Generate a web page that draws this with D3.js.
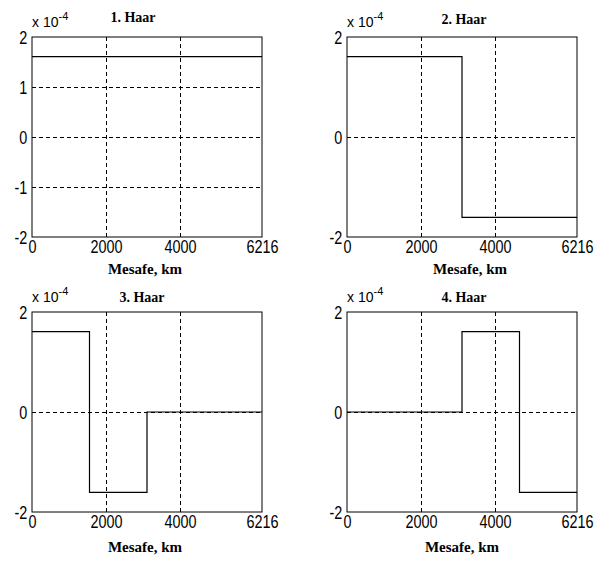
<!DOCTYPE html>
<html>
<head>
<meta charset="utf-8">
<script src="https://cdn.jsdelivr.net/npm/d3@7"></script>
<style>
  html, body { margin: 0; padding: 0; background: #fff; }
  svg { display: block; }
  .tick text { font-family: "Liberation Sans", Arial, sans-serif; font-size: 18px; fill: #000; }
  .title, .xlabel { font-family: "Liberation Serif", "Times New Roman", serif; font-weight: bold; fill: #000; }
</style>
</head>
<body>
<svg id="chart" width="611" height="561"></svg>
<script>
(function () {
    'use strict';

    // distance in km, Haar values in units of 1e-4
    const xMax = 6216;
    const xTicks = [0, 2000, 4000, 6216];
    const xGrid = [2000, 4000];
    const yTicksFull = [-2, -1, 0, 1, 2];
    const yTicksShort = [-2, 0, 2];
    const titles = ["1. Haar", "2. Haar", "3. Haar", "4. Haar"];

    const edges1 = [0, 6216];
    const levels1 = [1.609];
    const edges2 = [0, 3108, 6216];
    const levels2 = [1.609, -1.609];
    const edges3 = [0, 1554, 3108, 6216];
    const levels3 = [1.609, -1.609, 0];
    const edges4 = [0, 3108, 4662, 6216];
    const levels4 = [0, 1.609, -1.609];

    const series = [
        { edges: edges1, levels: levels1, yTicks: yTicksFull },
        { edges: edges2, levels: levels2, yTicks: yTicksShort },
        { edges: edges3, levels: levels3, yTicks: yTicksShort },
        { edges: edges4, levels: levels4, yTicks: yTicksShort }
    ];

    // panel layout (pixels)
    const plotW = 230, plotH = 200;
    const panels = [
        { left: 32,  top: 37,  titleDy: -15, titleDx: -14, labelDy: 37, labelDx: -2 },
        { left: 347, top: 37,  titleDy: -13, titleDx: 2,   labelDy: 37, labelDx: 8 },
        { left: 32,  top: 312, titleDy: -10, titleDx: -5,  labelDy: 40, labelDx: -2 },
        { left: 347, top: 312, titleDy: -10, titleDx: 2,   labelDy: 40, labelDx: 0 }
    ];

    const svg = d3.select('#chart');

    const x = d3.scaleLinear().domain([0, xMax]).range([0, plotW]);
    const y = d3.scaleLinear().domain([-2, 2]).range([plotH, 0]);

    const stepLine = d3.line()
            .x(d => x(d[0]))
            .y(d => y(d[1]))
            .curve(d3.curveStepAfter);

    series.forEach((s, i) => {
        const p = panels[i];
        const g = svg.append("g")
                .attr("transform", `translate(${p.left},${p.top})`);

        // dashed grid
        const gridX = g.append("g")
                .attr("transform", `translate(0,${plotH})`)
                .call(d3.axisBottom(x).tickValues(xGrid).tickSize(-plotH).tickFormat(""));
        const gridY = g.append("g")
                .call(d3.axisLeft(y).tickValues(s.yTicks.filter(v => v > -2 && v < 2))
                        .tickSize(-plotW).tickFormat(""));
        [gridX, gridY].forEach(gr => {
            gr.select(".domain").remove();
            gr.selectAll(".tick line")
                .attr("stroke", "#000")
                .attr("stroke-width", 1)
                .attr("stroke-dasharray", "4,3");
        });

        // frame
        g.append("rect")
                .attr("x", 0).attr("y", 0)
                .attr("width", plotW).attr("height", plotH)
                .attr("fill", "none")
                .attr("stroke", "#000")
                .attr("stroke-width", 1);

        // step signal
        const pts = s.levels.map((v, k) => [s.edges[k], v]);
        pts.push([s.edges[s.edges.length - 1], s.levels[s.levels.length - 1]]);
        g.append("path")
                .datum(pts)
                .attr("fill", "none")
                .attr("stroke", "#000")
                .attr("stroke-width", 1.2)
                .attr("d", stepLine);

        // tick labels (plain hyphen minus like the original)
        const ax = g.append("g")
                .attr("transform", `translate(0,${plotH})`)
                .call(d3.axisBottom(x).tickValues(xTicks).tickSize(0).tickPadding(3.5).tickFormat(d => String(d)));
        const ay = g.append("g")
                .call(d3.axisLeft(y).tickValues(s.yTicks).tickSize(0).tickPadding(6).tickFormat(d => String(d)));
        [ax, ay].forEach(a => {
            a.select(".domain").remove();
            a.attr("font-family", null).attr("font-size", null);
        });
        ax.selectAll(".tick text").attr("transform", "scale(0.8,1)");
        ay.selectAll(".tick text").attr("transform", "scale(0.8,1)").attr("dy", "0.36em");

        // exponent
        const ex = g.append("text")
                .attr("x", 0)
                .attr("y", -10)
                .attr("font-family", "Liberation Sans, Arial, sans-serif")
                .attr("font-size", 14)
                .attr("fill", "#000");
        ex.append("tspan").text("x 10");
        ex.append("tspan").attr("dy", -7).attr("font-size", 11).text("-4");

        g.append("text")
                .attr("class", "title")
                .attr("x", plotW / 2 + p.titleDx)
                .attr("y", p.titleDy)
                .attr("text-anchor", "middle")
                .attr("font-size", 14)
                .text(titles[i]);

        g.append("text")
                .attr("class", "xlabel")
                .attr("x", plotW / 2 + p.labelDx)
                .attr("y", plotH + p.labelDy)
                .attr("text-anchor", "middle")
                .attr("font-size", 15)
                .text("Mesafe, km");
    });
}());
</script>
</body>
</html>
